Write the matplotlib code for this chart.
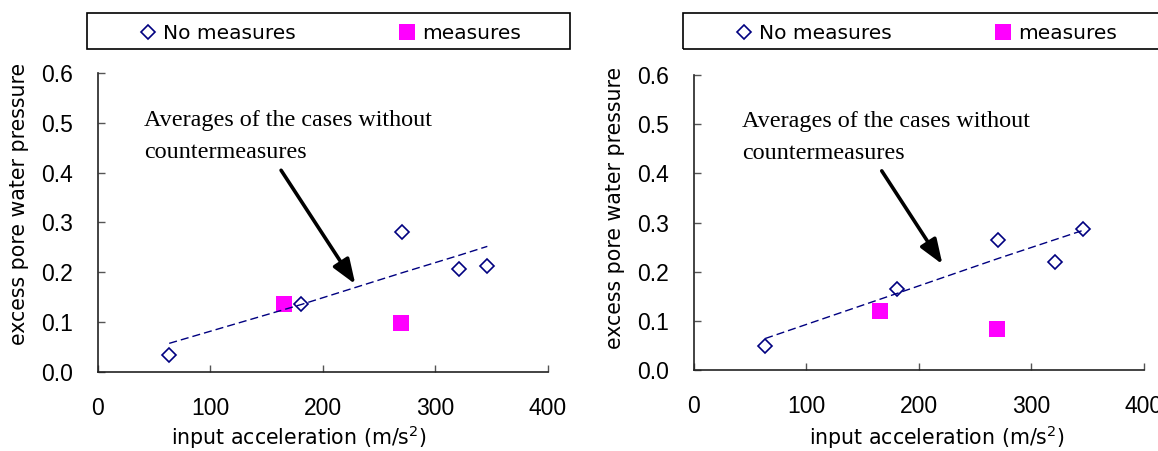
import matplotlib
matplotlib.use("Agg")
import matplotlib.pyplot as plt
from matplotlib.patches import Rectangle

W, H = 1158, 451

# left panel
left_no_x = [63.5, 180.8, 270.7, 321.3, 346.4]
left_no_y = [0.034, 0.137, 0.280, 0.206, 0.213]
left_me_x = [166.0, 269.4]
left_me_y = [0.136, 0.098]
left_avg_x = [63.5, 180.8, 270.7, 321.3, 346.4]
left_avg_y = [0.057, 0.135, 0.199, 0.234, 0.252]

# right panel
right_no_x = [63.3, 180.9, 270.8, 320.9, 346.0]
right_no_y = [0.048, 0.165, 0.264, 0.220, 0.286]
right_me_x = [165.4, 269.9]
right_me_y = [0.119, 0.083]
right_avg_x = [63.3, 180.9, 270.8, 320.9, 346.0]
right_avg_y = [0.064, 0.156, 0.227, 0.265, 0.284]

x_ticks = [0, 100, 200, 300, 400]
y_ticks = [0.0, 0.1, 0.2, 0.3, 0.4, 0.5, 0.6]
note = "Averages of the cases without\ncountermeasures"

navy = "#000080"
magenta = "#ff00ff"


def px_rect(x0, y0, x1, y1):
    return [x0 / W, 1 - y1 / H, (x1 - x0) / W, (y1 - y0) / H]


fig = plt.figure(figsize=(W / 100, H / 100), dpi=100)

panels = [
    dict(rect=(97.8, 73.3, 547.6, 371.7), no=(left_no_x, left_no_y), me=(left_me_x, left_me_y),
         avg=(left_avg_x, left_avg_y), arrow=((163, 0.405), (229, 0.176)), text=(41.3, 0.527),
         ylab=(-0.1745, 0.562), xlab=(0.446, -0.219), box=(87, 13, 570, 49), leg=140),
    dict(rect=(694, 75, 1143.7, 370), no=(right_no_x, right_no_y), me=(right_me_x, right_me_y),
         avg=(right_avg_x, right_avg_y), arrow=((167, 0.405), (221, 0.215)), text=(42.7, 0.527),
         ylab=(-0.1757, 0.551), xlab=(0.541, -0.227), box=(683, 13, 1162, 49), leg=736),
]

for p in panels:
    ax = fig.add_axes(px_rect(*p["rect"]))
    ln_me, = ax.plot(p["me"][0], p["me"][1], ls="none", marker="s", ms=11.3, mfc=magenta,
                     mec=magenta, mew=0, zorder=2, label="measures")
    ax.plot(p["avg"][0], p["avg"][1], color=navy, lw=1.0, dashes=(5.8, 2.9), zorder=3)
    ln_no, = ax.plot(p["no"][0], p["no"][1], ls="none", marker="D", ms=7.6, mfc="none",
                     mec=navy, mew=1.2, zorder=4, label="No measures")

    ax.set_xlim(0, 400)
    ax.set_ylim(0, 0.6)
    ax.set_xticks(x_ticks)
    ax.set_yticks(y_ticks)
    ax.set_yticklabels([f"{v:.1f}" for v in y_ticks])
    for s in ["top", "right"]:
        ax.spines[s].set_visible(False)
    for s in ["left", "bottom"]:
        ax.spines[s].set_color("#222222")
        ax.spines[s].set_linewidth(1.2)
    ax.tick_params(axis="y", direction="in", length=5, width=1, color="#555555",
                   labelsize=16.5, pad=18)
    ax.tick_params(axis="x", direction="in", length=5, width=1, color="#555555",
                   labelsize=16.5, pad=18)
    for lab in ax.get_xticklabels() + ax.get_yticklabels():
        lab.set_family("Liberation Sans")

    ax.set_ylabel("excess pore water pressure", fontsize=14.8, family="DejaVu Sans")
    ax.yaxis.label.set_va("center")
    ax.yaxis.set_label_coords(*p["ylab"])
    ax.set_xlabel("input acceleration (m/s$^2$)", fontsize=14.8, family="DejaVu Sans")
    ax.xaxis.label.set_va("center")
    ax.xaxis.set_label_coords(*p["xlab"])

    (x0, y0), (x1, y1) = p["arrow"]
    ax.annotate("", xy=(x1, y1), xytext=(x0, y0),
                arrowprops=dict(arrowstyle="-|>,head_width=0.28,head_length=0.75",
                                mutation_scale=20, lw=2.6, color="black",
                                shrinkA=0, shrinkB=0))
    ax.text(p["text"][0], p["text"][1], note, family="Liberation Serif", fontsize=17.4,
            va="top", ha="left", linespacing=1.7)

    bx0, by0, bx1, by1 = p["box"]
    fig.add_artist(Rectangle((bx0 / W, 1 - by1 / H), (bx1 - bx0) / W, (by1 - by0) / H,
                             transform=fig.transFigure, fill=False, ec="black", lw=1.2))
    leg = ax.legend(handles=[ln_no, ln_me], ncol=2, frameon=False,
                    loc="center left", bbox_to_anchor=(p["leg"] / W, 1 - 33.5 / H),
                    bbox_transform=fig.transFigure, borderpad=0, borderaxespad=0,
                    handlelength=0.8, handletextpad=0.35, columnspacing=5.1,
                    prop=dict(family="DejaVu Sans", size=14.5))

fig.savefig("out.png", dpi=100)
